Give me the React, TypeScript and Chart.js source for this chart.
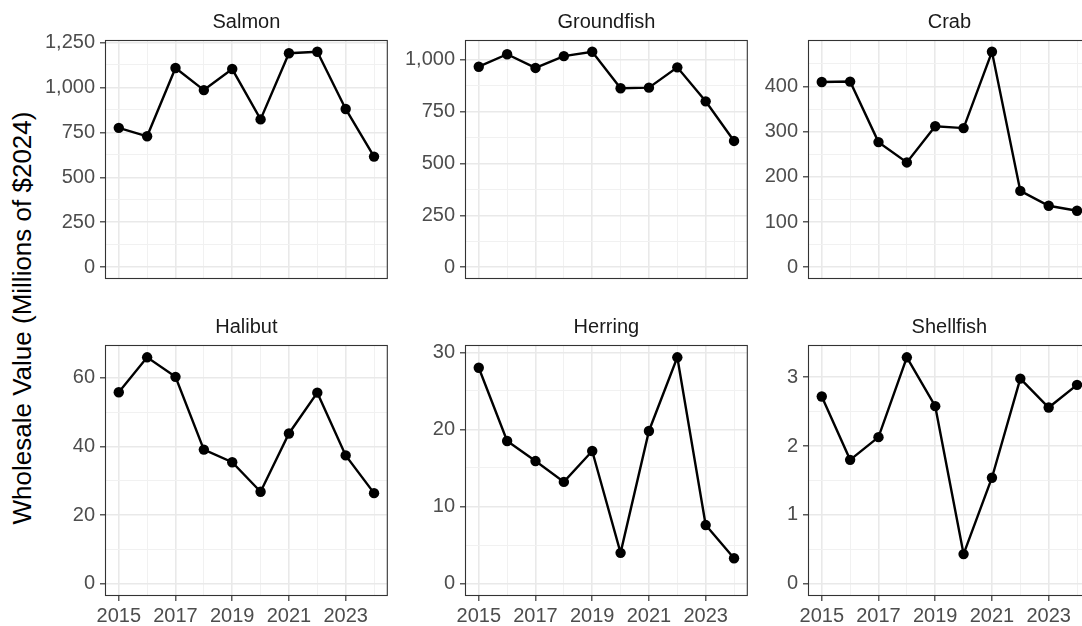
import React, { useEffect, useRef } from "react";
import { Chart, registerables } from "chart.js";
Chart.register(...registerables);

const FONT = "'Liberation Sans', Arial, Helvetica, sans-serif";

// ---- data ----
const years = [2015, 2016, 2017, 2018, 2019, 2020, 2021, 2022, 2023, 2024];
const xMajorYears = [2015, 2017, 2019, 2021, 2023];

const salmon = [775, 728, 1108, 985, 1102, 822, 1190, 1198, 880, 615];
const groundfish = [967, 1027, 961, 1018, 1039, 863, 866, 964, 800, 609];
const crab = [410, 411, 277, 232, 312, 308, 477, 169, 136, 125];
const halibut = [55.8, 66.0, 60.3, 39.1, 35.4, 26.8, 43.8, 55.7, 37.4, 26.4];
const herring = [28.0, 18.5, 15.9, 13.2, 17.2, 4.0, 19.8, 29.35, 7.6, 3.3];
const shellfish = [2.72, 1.8, 2.13, 3.29, 2.58, 0.43, 1.54, 2.98, 2.56, 2.89];

const panelTitles = ["Salmon", "Groundfish", "Crab", "Halibut", "Herring", "Shellfish"];
const panelValues = [salmon, groundfish, crab, halibut, herring, shellfish];

const salmonTicks = [0, 250, 500, 750, 1000, 1250];
const groundfishTicks = [0, 250, 500, 750, 1000];
const crabTicks = [0, 100, 200, 300, 400];
const halibutTicks = [0, 20, 40, 60];
const herringTicks = [0, 10, 20, 30];
const shellfishTicks = [0, 1, 2, 3];
const panelTicks = [salmonTicks, groundfishTicks, crabTicks, halibutTicks, herringTicks, shellfishTicks];

const yTitle = "Wholesale Value (Millions of $2024)";

// ---- layout ----
const colLefts = [106, 466, 809];
const rowTops = [41, 346];
const rowHeights = [250, 249];
const PANEL_W = 282;
const AXIS_W = 70;
const RIGHT_PAD = 4;
const STRIP_H = [41, 40];
const AXIS_H = [4, 31];
const TICK_FONT = 20;

const panelDecor = {
  id: "panelDecor",
  afterDraw(chart: any, _args: any, opts: any) {
    const { ctx, chartArea: a } = chart;
    ctx.save();
    ctx.strokeStyle = "#333333";
    ctx.lineWidth = 1.1;
    ctx.strokeRect(a.left - 0.5, a.top - 0.5, a.right - a.left + 1, a.bottom - a.top + 1);
    ctx.fillStyle = "#1A1A1A";
    ctx.font = `${TICK_FONT}px ${FONT}`;
    ctx.textAlign = "center";
    ctx.textBaseline = "alphabetic";
    ctx.fillText(opts.title, (a.left + a.right) / 2, a.top - 13);
    ctx.restore();
  },
};

function Panel({ index }: { index: number }) {
  const ref = useRef<HTMLCanvasElement>(null);
  const row = index < 3 ? 0 : 1;
  const col = index % 3;
  const bottomRow = row === 1;
  const width = AXIS_W + PANEL_W + RIGHT_PAD;
  const height = STRIP_H[row] + rowHeights[row] + AXIS_H[row];
  const left = colLefts[col] - AXIS_W;
  const top = rowTops[row] - STRIP_H[row];

  useEffect(() => {
    const values = panelValues[index];
    const majors = panelTicks[index];
    const maxV = Math.max(...values);
    const yMin = -0.05 * maxV;
    const yMax = 1.05 * maxV;
    const step = majors[1] - majors[0];
    const yTickVals: number[] = [];
    majors.forEach((m) => {
      yTickVals.push(m);
      yTickVals.push(m + step / 2);
    });
    const yTicksIn = yTickVals.filter((v) => v >= yMin && v <= yMax);
    const isMajorY = (v: number) => majors.some((m) => Math.abs(m - v) < 1e-9);
    const isMajorX = (v: number) => xMajorYears.some((m) => Math.abs(m - v) < 1e-9);

    const chart = new Chart(ref.current as HTMLCanvasElement, {
      type: "line",
      data: {
        datasets: [
          {
            data: years.map((y, i) => ({ x: y, y: values[i] })),
            borderColor: "#000000",
            backgroundColor: "#000000",
            borderWidth: 2.4,
            pointRadius: 5.2,
            pointBorderWidth: 0,
            pointBackgroundColor: "#000000",
            tension: 0,
            clip: false as any,
          },
        ],
      },
      options: {
        animation: false,
        responsive: false,
        devicePixelRatio: 1,
        events: [],
        layout: { padding: { top: STRIP_H[row], right: RIGHT_PAD, bottom: 0, left: 0 } },
        plugins: {
          legend: { display: false },
          tooltip: { enabled: false },
          panelDecor: { title: panelTitles[index] },
        } as any,
        scales: {
          x: {
            type: "linear",
            bounds: "data",
            min: 2014.55,
            max: 2024.45,
            afterBuildTicks: (s: any) => {
              s.ticks = years.map((v) => ({ value: v }));
            },
            afterFit: (s: any) => {
              s.height = AXIS_H[row];
            },
            border: { display: false },
            grid: {
              color: (c: any) => (c.tick && isMajorX(c.tick.value) ? "#E9E9E9" : "#F1F1F1"),
              lineWidth: (c: any) => (c.tick && isMajorX(c.tick.value) ? 1.6 : 1),
              drawTicks: bottomRow,
              tickLength: 6,
              tickWidth: 1.2,
              tickColor: (c: any) => (c.tick && isMajorX(c.tick.value) ? "#333333" : "rgba(0,0,0,0)"),
            },
            ticks: {
              display: bottomRow,
              autoSkip: false,
              maxRotation: 0,
              minRotation: 0,
              padding: 3,
              color: "#4D4D4D",
              font: { family: FONT, size: TICK_FONT },
              callback: (v: any) => (isMajorX(Number(v)) ? String(v) : ""),
            },
          },
          y: {
            type: "linear",
            bounds: "data",
            min: yMin,
            max: yMax,
            afterBuildTicks: (s: any) => {
              s.ticks = yTicksIn.map((v) => ({ value: v }));
            },
            afterFit: (s: any) => {
              s.width = AXIS_W;
            },
            border: { display: false },
            grid: {
              color: (c: any) => (c.tick && isMajorY(c.tick.value) ? "#E9E9E9" : "#F1F1F1"),
              lineWidth: (c: any) => (c.tick && isMajorY(c.tick.value) ? 1.6 : 1),
              drawTicks: true,
              tickLength: 6,
              tickWidth: 1.2,
              tickColor: (c: any) => (c.tick && isMajorY(c.tick.value) ? "#333333" : "rgba(0,0,0,0)"),
            },
            ticks: {
              autoSkip: false,
              padding: 5,
              color: "#4D4D4D",
              font: { family: FONT, size: TICK_FONT },
              callback: (v: any) => (isMajorY(Number(v)) ? Number(v).toLocaleString("en-US") : ""),
            },
          },
        },
      },
      plugins: [panelDecor],
    });
    return () => chart.destroy();
  }, []);

  return (
    <canvas
      ref={ref}
      width={width}
      height={height}
      style={{ position: "absolute", left, top, width, height }}
    />
  );
}

export default function App() {
  return (
    <div
      style={{
        position: "absolute",
        left: 0,
        top: 0,
        width: 1082,
        height: 626,
        overflow: "hidden",
        background: "#ffffff",
      }}
    >
      <div
        style={{
          position: "absolute",
          left: 22,
          top: 318,
          transform: "translate(-50%, -50%) rotate(-90deg)",
          whiteSpace: "nowrap",
          font: `26px ${FONT}`,
          color: "#000000",
        }}
      >
        {yTitle}
      </div>
      {panelTitles.map((_, i) => (
        <Panel key={i} index={i} />
      ))}
    </div>
  );
}
